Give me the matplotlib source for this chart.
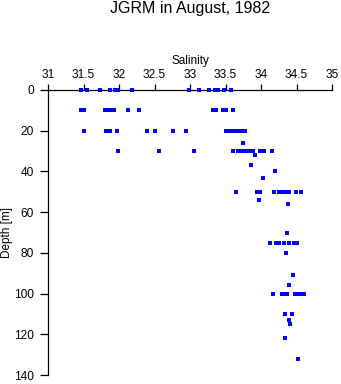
import matplotlib
matplotlib.use('Agg')
import matplotlib.pyplot as plt

plt.rcParams['font.family'] = ['Liberation Sans', 'DejaVu Sans']

title = 'JGRM in August, 1982'
x_label = 'Salinity'
y_label = 'Depth [m]'
x_ticks = [31, 31.5, 32, 32.5, 33, 33.5, 34, 34.5, 35]
y_ticks = [0, 20, 40, 60, 80, 100, 120, 140]

# samples (depth in m, salinity)
depth = ([0]*14 + [10]*13 + [20]*15 + [30]*13 +
         [26, 32, 37, 40, 43] + [50]*10 + [54, 56, 70] + [75]*7 +
         [80, 91, 96] + [100]*8 + [110, 110, 113, 115, 122, 132])
salinity = [31.46, 31.55, 31.73, 31.87, 31.94, 31.99, 32.19, 32.99, 33.13, 33.27, 33.35, 33.40, 33.48, 33.58,
            31.46, 31.50, 31.80, 31.84, 31.89, 31.93, 32.13, 32.28, 33.32, 33.37, 33.46, 33.50, 33.61,
            31.50, 31.81, 31.88, 31.97, 32.40, 32.51, 32.76, 32.94, 33.50, 33.54, 33.58, 33.62, 33.68, 33.72, 33.77,
            31.99, 32.57, 33.06, 33.61, 33.68, 33.71, 33.74, 33.79, 33.83, 33.89, 33.98, 34.04, 34.16,
            33.75, 33.92, 33.86, 34.20, 34.03,
            33.65, 33.95, 33.99, 34.18, 34.25, 34.30, 34.34, 34.39, 34.49, 34.56,
            33.97, 34.38, 34.36,
            34.13, 34.21, 34.25, 34.32, 34.39, 34.46, 34.51,
            34.35, 34.45, 34.39,
            34.17, 34.29, 34.33, 34.37, 34.48, 34.52, 34.56, 34.60,
            34.34, 34.44, 34.39, 34.41, 34.34, 34.52]

W, H = 341, 384
fig = plt.figure(figsize=(W/100, H/100), dpi=100)
ax = fig.add_axes([48/W, 1 - 375/H, (332 - 48)/W, (375 - 90)/H])

ax.plot(salinity, depth, 's', color='#0000ff', markersize=2.3, markeredgewidth=0,
        clip_on=False, zorder=5)

ax.set_xlim(31, 35)
ax.set_ylim(140, 0)
ax.set_xticks(x_ticks)
ax.set_xticklabels(['{:g}'.format(v) for v in x_ticks])
ax.set_yticks(y_ticks)

ax.xaxis.tick_top()
ax.xaxis.set_label_position('top')
ax.spines['right'].set_visible(False)
ax.spines['bottom'].set_visible(False)
ax.spines['top'].set_linewidth(0.9)
ax.spines['left'].set_linewidth(0.9)
ax.tick_params(axis='x', direction='out', length=4.3, width=0.9, pad=2.5, labelsize=8.6)
ax.tick_params(axis='y', direction='out', length=5.8, width=0.9, pad=4.5, labelsize=8.6)

ax.set_xlabel(x_label, fontsize=8.5, labelpad=3)
ax.set_ylabel(y_label, fontsize=8.5, va='center')
ax.yaxis.set_label_coords(-0.146, 0.5)
fig.text(190/W, 1 - 9/H, title, ha='center', va='center', fontsize=11.5)

fig.savefig('out.png', dpi=100)
